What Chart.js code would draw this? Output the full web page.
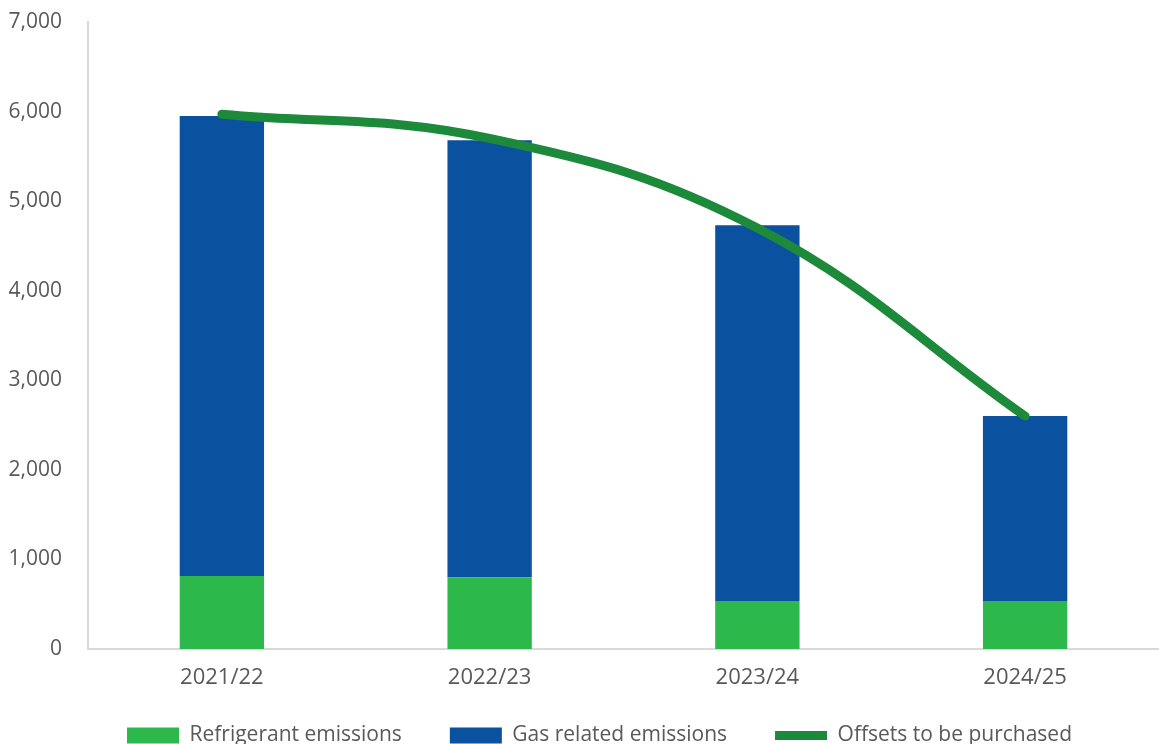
<!DOCTYPE html>
<html>
<head>
<meta charset="utf-8">
<script src="https://cdn.jsdelivr.net/npm/chart.js@4/dist/chart.umd.min.js"></script>
<style>
  html, body { margin: 0; padding: 0; background: #fff; overflow: hidden; }
  #wrap { width: 1159px; height: 777px; }
</style>
</head>
<body>
<div id="wrap"><canvas id="chart" width="1159" height="777"></canvas></div>
<script>
// ── Data ────────────────────────────────────────────────────────────────
const categories  = ['2021/22', '2022/23', '2023/24', '2024/25'];
const refrigerant = [815, 800, 535, 535];
const gasRelated  = [5135, 4880, 4195, 2065];
const offsets     = [5970, 5700, 4700, 2600];
const yTicks      = [0, 1000, 2000, 3000, 4000, 5000, 6000, 7000];

const GREEN_BAR = '#2DB84C';
const BLUE_BAR  = '#0A51A0';
const GREEN_LINE = '#1C8A3A';
const TEXT = '#595959';
const AXIS = '#D9D9D9';

Chart.defaults.font.family = "'Open Sans', sans-serif";
Chart.defaults.color = TEXT;

// move the legend row: wide item gaps but sitting close under the axis
const legendShift = {
    id: 'legendShift',
    afterLayout(chart) {
        const lg = chart.legend;
        lg.left += 20;
        lg.right += 20;
        lg.top -= 21;
        lg.bottom -= 21;
    }
};

new Chart(document.getElementById('chart'), {
    type: 'bar',
    data: {
        labels: categories,
        datasets: [
            {
                label: 'Refrigerant emissions',
                data: refrigerant,
                backgroundColor: GREEN_BAR,
                borderWidth: 0,
                pointStyle: 'rect',
                stack: 'emissions',
                order: 2,
                barPercentage: 0.315,
                categoryPercentage: 1
            },
            {
                label: 'Gas related emissions',
                data: gasRelated,
                backgroundColor: BLUE_BAR,
                borderWidth: 0,
                pointStyle: 'rect',
                stack: 'emissions',
                order: 2,
                barPercentage: 0.315,
                categoryPercentage: 1
            },
            {
                type: 'line',
                label: 'Offsets to be purchased',
                data: offsets,
                borderColor: GREEN_LINE,
                backgroundColor: GREEN_LINE,
                borderWidth: 9,
                borderCapStyle: 'round',
                pointRadius: 0,
                pointStyle: 'line',
                tension: 0.4,
                stack: 'offsets',
                order: 0
            }
        ]
    },
    plugins: [legendShift],
    options: {
        responsive: false,
        animation: false,
        devicePixelRatio: 1,
        layout: { padding: { top: 22, left: 0, right: 0, bottom: 0 } },
        plugins: {
            tooltip: { enabled: false },
            legend: {
                position: 'bottom',
                labels: {
                    color: TEXT,
                    font: { size: 21 },
                    usePointStyle: true,
                    pointStyleWidth: 52,
                    boxHeight: 16,
                    padding: 48,
                    sort: (a, b) => a.datasetIndex - b.datasetIndex
                }
            }
        },
        scales: {
            x: {
                stacked: true,
                grid: { display: false, drawTicks: false },
                border: { color: AXIS, width: 2 },
                ticks: { color: TEXT, font: { size: 22 }, padding: 16 },
                afterFit: axis => { axis.height = 49; }
            },
            y: {
                stacked: true,
                min: 0,
                max: 7000,
                afterBuildTicks: axis => { axis.ticks = yTicks.map(v => ({ value: v })); },
                grid: { display: false, drawTicks: true, tickLength: 26, tickColor: 'rgba(0,0,0,0)' },
                border: { color: AXIS, width: 2 },
                ticks: {
                    color: TEXT,
                    font: { size: 21 },
                    padding: 0,
                    callback: v => v.toLocaleString('en-US')
                },
                afterFit: axis => { axis.width = 88; }
            }
        }
    }
});
</script>
</body>
</html>
